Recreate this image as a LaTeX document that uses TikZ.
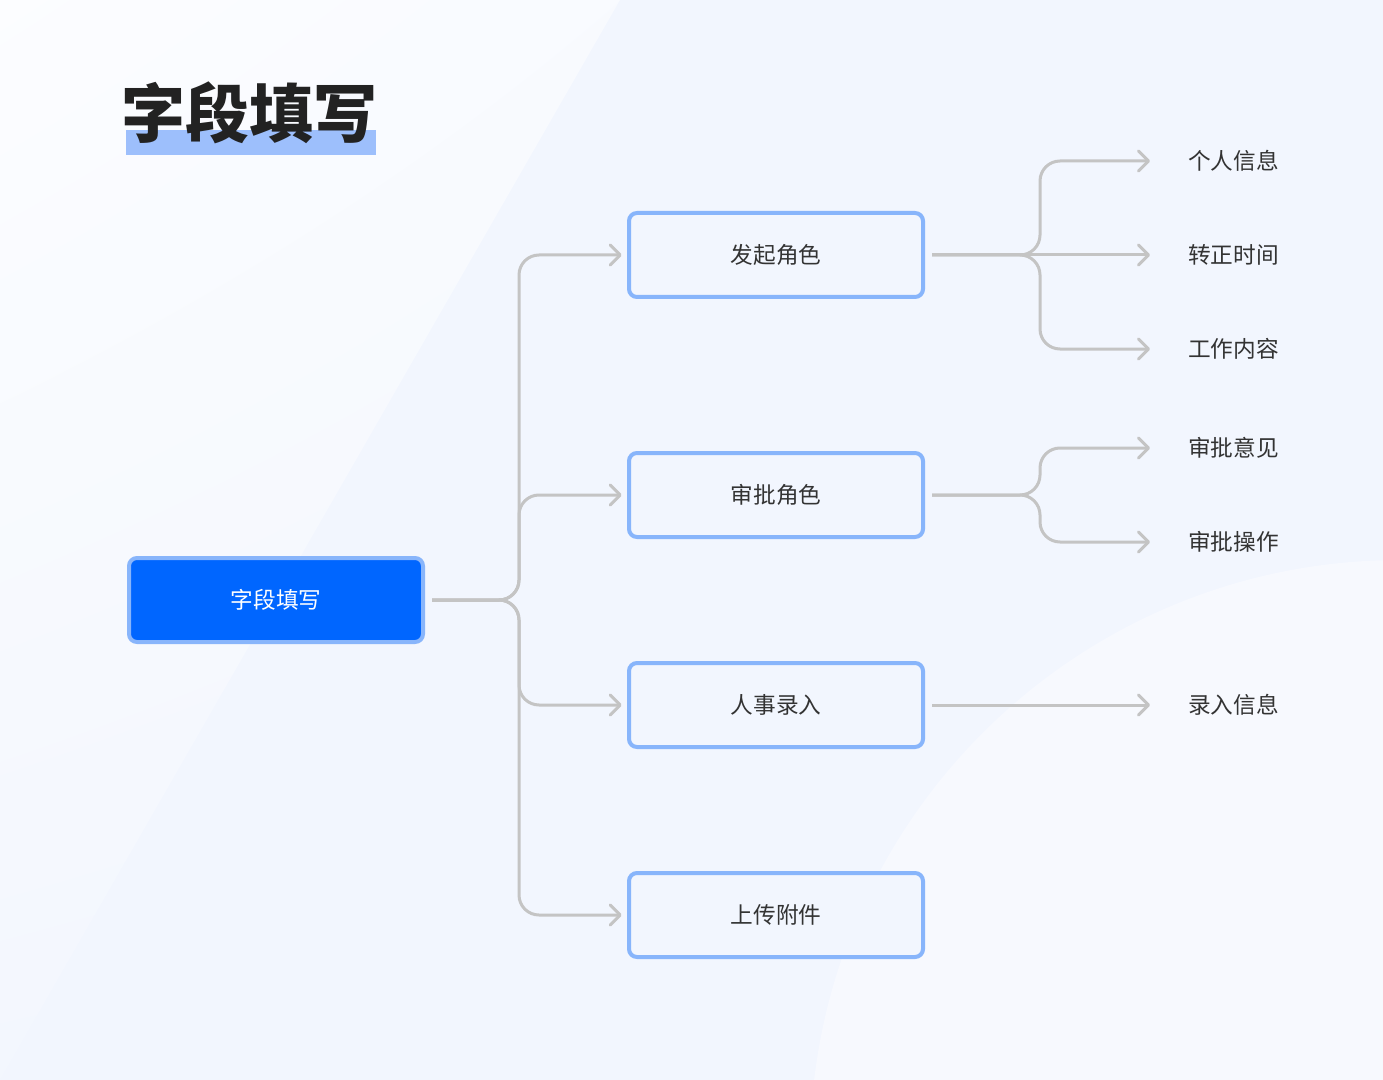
\documentclass[tikz,border=0pt]{standalone}
\usepackage{fontspec}
\setmainfont{Noto Sans CJK SC}
\newfontfamily\titlefont{Noto Sans CJK SC}[UprightFont=* Black]
\usetikzlibrary{calc,arrows.meta,shadings}
\definecolor{bg}{HTML}{F2F6FE}
\definecolor{bglight}{HTML}{F7F9FE}
\definecolor{boxline}{HTML}{88B5FB}
\definecolor{rootblue}{HTML}{0066FF}
\definecolor{linegray}{HTML}{C4C4C4}
\definecolor{textgray}{HTML}{333333}
\definecolor{titledark}{HTML}{222222}
\definecolor{titlebar}{HTML}{9DBFFC}
\begin{document}
\begin{tikzpicture}[x=0.75pt, y=-0.75pt,
    box/.style={draw=boxline, line width=3pt, rounded corners=6pt, fill=bg,
      minimum width=220.5pt, minimum height=63pt, text=textgray,
      font=\fontsize{17}{20}\selectfont},
    rootbox/.style={box, fill=rootblue, text=white},
    leaf/.style={anchor=west, inner sep=0pt, text=textgray,
      font=\fontsize{17}{20}\selectfont},
    link/.style={draw=linegray, line width=2.25pt, rounded corners=15pt, ->,
      >={Straight Barb[length=7.5pt, width=15pt, round]},
      shorten <=5.25pt, shorten >=4pt},
    toleaf/.style={link, shorten >=28.5pt}]
  \useasboundingbox (0,0) rectangle (1383,1080);
  \clip (0,0) rectangle (1383,1080);
  % background
  \fill[bg] (0,0) rectangle (1383,1080);
  \shade[upper left=white!75!bg, upper right=white!50!bg,
    lower left=white!8!bg, lower right=bg] (0,0) -- (620,0) -- (0,1080) -- cycle;
  \fill[bglight] (1400,1150) circle (590);
  % title
  \fill[titlebar] (126,130) rectangle (376,155);
  \node[inner sep=0pt, text=titledark, font=\titlefont\fontsize{48}{52}\selectfont] (title) at (249,113) {字段填写};
  % nodes
  \node[rootbox] (field) at (276,600) {字段填写};
  \node[box] (starter) at (776,255) {发起角色};
  \node[box] (approver) at (776,495) {审批角色};
  \node[box] (hr) at (776,705) {人事录入};
  \node[box] (upload) at (776,915) {上传附件};
  \node[leaf] (info) at (1188,161) {个人信息};
  \node[leaf] (regular) at (1188,255) {转正时间};
  \node[leaf] (work) at (1188,349) {工作内容};
  \node[leaf] (opinion) at (1188,448) {审批意见};
  \node[leaf] (action) at (1188,542) {审批操作};
  \node[leaf] (entry) at (1188,705) {录入信息};
  % links
  \foreach \n in {starter,approver,hr,upload}
    \draw[link] (field.east) -| ($(\n.west)+(-108,0)$) -- (\n.west);
  \foreach \a/\b in {starter/info,starter/work,approver/opinion,approver/action}
    \draw[toleaf] (\a.east) -| ($(\b.west)+(-148,0)$) -- (\b.west);
  \draw[toleaf] (starter.east) -- (regular.west);
  \draw[toleaf] (hr.east) -- (entry.west);
\end{tikzpicture}
\end{document}
